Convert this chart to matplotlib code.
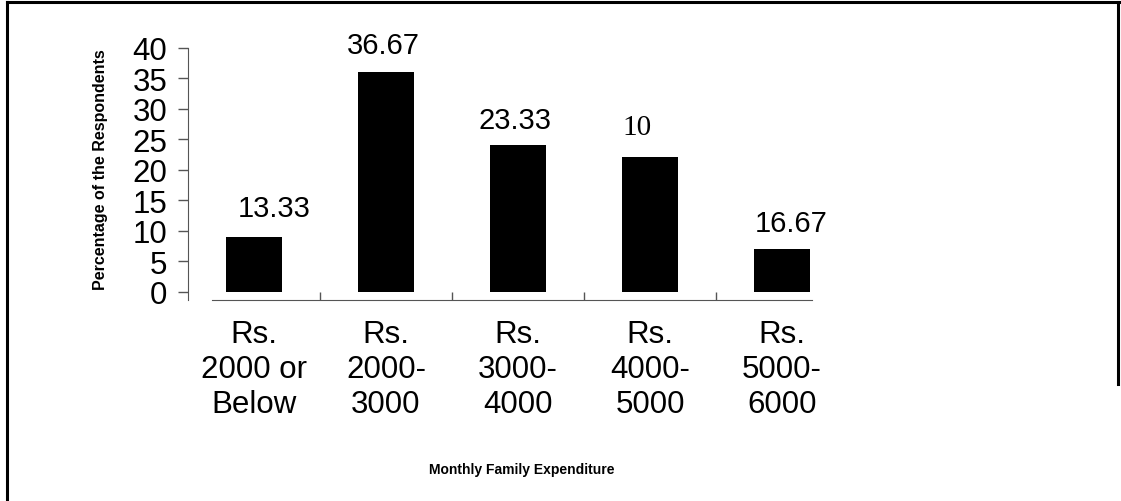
import matplotlib

matplotlib.use("Agg")
import matplotlib.pyplot as plt
from matplotlib.lines import Line2D

# data
categories = ["Rs.\n2000 or\nBelow", "Rs.\n2000-\n3000", "Rs.\n3000-\n4000",
              "Rs.\n4000-\n5000", "Rs.\n5000-\n6000"]
bar_heights = [9, 36, 24, 22, 7]
value_labels = ["13.33", "36.67", "23.33", "10", "16.67"]

# label placement (offset from bar centre, height in data units), font per label
label_dx = [0.15, -0.02, -0.02, -0.10, 0.07]
label_y = [13.7, 40.4, 28.2, 27.0, 11.3]
label_family = ["Liberation Sans", "Liberation Sans", "Liberation Sans",
                "Liberation Serif", "Liberation Sans"]

W, H = 1121, 502
BIG = 22.5
LBL = 21
plt.rcParams["font.family"] = ["Liberation Sans", "DejaVu Sans"]

fig = plt.figure(figsize=(W / 100, H / 100), dpi=100)
ax = fig.add_axes([188 / W, 1 - 300.7 / H, 660 / W, (300.7 - 48.5) / H])

xs = list(range(len(categories)))
ax.bar(xs, bar_heights, width=0.42, color="black")

for i, txt in enumerate(value_labels):
    ax.text(xs[i] + label_dx[i], label_y[i], txt, ha="center", va="center",
            fontsize=LBL, family=label_family[i], clip_on=False)

ax.set_xlim(-0.5, len(categories) - 0.5)
ax.set_ylim(-1.3, 40)

spine_col = "#555555"
for s in ("top", "right"):
    ax.spines[s].set_visible(False)
ax.spines["left"].set_color(spine_col)
ax.spines["bottom"].set_color(spine_col)
ax.spines["left"].set_bounds(-1.3, 40)
ax.spines["bottom"].set_bounds(-0.32, 4.23)

ax.set_yticks(range(0, 41, 5))
ax.tick_params(axis="y", direction="out", length=7, width=1, color=spine_col,
               labelsize=BIG, pad=8)

ax.set_xticks([0.5, 1.5, 2.5, 3.5])
ax.set_xticklabels([])
ax.set_xticks(xs, minor=True)
ax.set_xticklabels(categories, minor=True, fontsize=BIG, linespacing=1.22)
ax.tick_params(axis="x", which="major", direction="in", length=6, width=1,
               color=spine_col)
ax.tick_params(axis="x", which="minor", length=0, pad=14)

fig.text(100 / W, 1 - 170 / H, "Percentage of the Respondents", rotation=90,
         ha="center", va="center", fontsize=11.5, fontweight="bold")
fig.text(522 / W, 1 - 470 / H, "Monthly Family Expenditure",
         ha="center", va="center", fontsize=10, fontweight="bold")

# frame around the picture
def fig_line(x0, y0, x1, y1):
    fig.add_artist(Line2D([x0 / W, x1 / W], [1 - y0 / H, 1 - y1 / H],
                          color="black", linewidth=2.2))

fig_line(7, 3, W, 3)
fig_line(7, 3, 7, H)
fig_line(1118, 3, 1118, 385)

fig.savefig("out.png", dpi=100)
